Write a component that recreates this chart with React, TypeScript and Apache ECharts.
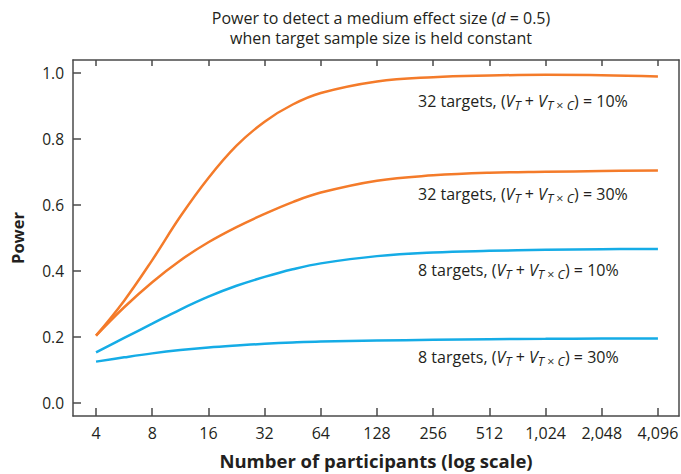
import React, { useEffect, useRef } from "react";
import * as echarts from "echarts";

const participants = [4, 5.66, 8, 11.31, 16, 22.63, 32, 45.25, 64, 128, 256, 512, 1024, 2048, 4096];
const power32t10 = [0.204, 0.31, 0.433, 0.565, 0.682, 0.78, 0.853, 0.905, 0.94, 0.975, 0.988, 0.993, 0.995, 0.994, 0.99];
const power32t30 = [0.204, 0.29, 0.366, 0.432, 0.487, 0.533, 0.573, 0.609, 0.638, 0.674, 0.69, 0.698, 0.701, 0.703, 0.705];
const power8t10 = [0.153, 0.197, 0.24, 0.283, 0.322, 0.355, 0.382, 0.405, 0.423, 0.445, 0.456, 0.461, 0.464, 0.466, 0.467];
const power8t30 = [0.125, 0.138, 0.15, 0.16, 0.168, 0.174, 0.179, 0.183, 0.186, 0.189, 0.191, 0.193, 0.194, 0.195, 0.195];

const xTickValues = [4, 8, 16, 32, 64, 128, 256, 512, 1024, 2048, 4096];
const xTickLabels = ["4", "8", "16", "32", "64", "128", "256", "512", "1,024", "2,048", "4,096"];
const yTickValues = [0, 0.2, 0.4, 0.6, 0.8, 1.0];

const seriesNames = [
  "32 targets, 10%",
  "32 targets, 30%",
  "8 targets, 10%",
  "8 targets, 30%",
];
const labelTexts = [
  "32 targets, ({v|V}{s|T} + {v|V}{s|T}{sx| × }{s|C}) = 10%",
  "32 targets, ({v|V}{s|T} + {v|V}{s|T}{sx| × }{s|C}) = 30%",
  "8 targets, ({v|V}{s|T} + {v|V}{s|T}{sx| × }{s|C}) = 10%",
  "8 targets, ({v|V}{s|T} + {v|V}{s|T}{sx| × }{s|C}) = 30%",
];

const ORANGE = "#F47B2A";
const BLUE = "#15ACE6";
const TEXT = "#231F20";
const AXIS = "#4a4a4a";
const FONT = "'Open Sans', sans-serif";

export default function App() {
  const ref = useRef<HTMLDivElement>(null);
  useEffect(() => {
    if (!ref.current) return;
    const chart = echarts.init(ref.current, null, { renderer: "svg" });
    const lg = (n: number) => Math.log2(n);
    const mk = (vals: number[]) => participants.map((p, i) => [lg(p), vals[i]]);
    const all = [power32t10, power32t30, power8t10, power8t30];
    const colors = [ORANGE, ORANGE, BLUE, BLUE];
    const rich = {
      v: { fontStyle: "italic", fontSize: 16, fontFamily: FONT, lineHeight: 22, fill: TEXT, color: TEXT },
      s: { fontStyle: "italic", fontSize: 12.5, fontFamily: FONT, lineHeight: 8, verticalAlign: "bottom", fill: TEXT, color: TEXT },
      sx: { fontSize: 12.5, fontFamily: FONT, lineHeight: 8, verticalAlign: "bottom", fill: TEXT, color: TEXT },
    };
    const labelY = [101, 194, 270, 357];
    const xTickLog = xTickValues.map(lg);
    const xMin = lg(4) - 0.41;
    const xMax = lg(4096) + 0.375;
    chart.setOption({
      animation: false,
      title: {
        text: "Power to detect a medium effect size ({i|d} = 0.5)\nwhen target sample size is held constant",
        left: 376,
        top: 3,
        textAlign: "center",
        textStyle: {
          fontFamily: FONT,
          fontSize: 16,
          fontWeight: "normal",
          color: TEXT,
          lineHeight: 20,
          rich: {
            i: { fontFamily: FONT, fontSize: 16, fontStyle: "italic", color: TEXT, lineHeight: 20 },
          },
        },
      },
      grid: { left: 73, right: 2, top: 60, bottom: 58, containLabel: false, outerBoundsMode: "none" },
      xAxis: [
        {
          type: "value",
          min: xMin,
          max: xMax,
          name: "Number of participants (log scale)",
          nameLocation: "middle",
          nameGap: 35,
          nameTextStyle: { fontFamily: FONT, fontSize: 18.5, fontWeight: "bold", color: TEXT },
          axisLine: { show: true, onZero: false, lineStyle: { color: AXIS, width: 1.5 } },
          axisTick: { show: true, inside: true, length: 8, customValues: xTickLog, lineStyle: { color: AXIS, width: 1.5 } },
          axisLabel: {
            customValues: xTickLog,
            margin: 9,
            fontFamily: FONT,
            fontSize: 16,
            color: TEXT,
            formatter: (v: number) => {
              const idx = xTickLog.findIndex((t) => Math.abs(t - v) < 1e-6);
              return idx >= 0 ? xTickLabels[idx] : "";
            },
          },
          splitLine: { show: false },
        },
        {
          type: "value",
          position: "top",
          min: xMin,
          max: xMax,
          axisLine: { show: true, onZero: false, lineStyle: { color: AXIS, width: 1.5 } },
          axisTick: { show: true, inside: true, length: 6, customValues: xTickLog, lineStyle: { color: AXIS, width: 1.5 } },
          axisLabel: { show: false },
          splitLine: { show: false },
        },
      ],
      yAxis: [
        {
          type: "value",
          min: -0.04,
          max: 1.04,
          name: "Power",
          nameLocation: "middle",
          nameGap: 47,
          nameTextStyle: { fontFamily: FONT, fontSize: 16.5, fontWeight: "bold", color: TEXT },
          axisLine: { show: true, onZero: false, lineStyle: { color: AXIS, width: 1.5 } },
          axisTick: { show: true, inside: true, length: 8, customValues: yTickValues, lineStyle: { color: AXIS, width: 1.5 } },
          axisLabel: {
            customValues: yTickValues,
            margin: 9,
            fontFamily: FONT,
            fontSize: 15.5,
            color: TEXT,
            formatter: (v: number) => v.toFixed(1),
          },
          splitLine: { show: false },
        },
        {
          type: "value",
          position: "right",
          min: -0.04,
          max: 1.04,
          axisLine: { show: true, onZero: false, lineStyle: { color: AXIS, width: 1.5 } },
          axisTick: { show: false },
          axisLabel: { show: false },
          splitLine: { show: false },
        },
      ],
      series: all.map((vals, i) => ({
        name: seriesNames[i],
        type: "line",
        data: mk(vals),
        smooth: 0.4,
        showSymbol: false,
        symbol: "none",
        lineStyle: { color: colors[i], width: 2.5 },
        z: 3,
      })),
      graphic: labelTexts.map((t, i) => ({
        type: "text",
        x: 418,
        y: labelY[i],
        style: {
          text: t,
          rich,
          font: `16px ${FONT}`,
          fill: TEXT,
          lineHeight: 22,
          verticalAlign: "middle",
          align: "left",
        },
      })),
    });
    return () => chart.dispose();
  }, []);
  return <div ref={ref} style={{ width: 681, height: 474, position: "absolute", left: 0, top: 0 }} />;
}
